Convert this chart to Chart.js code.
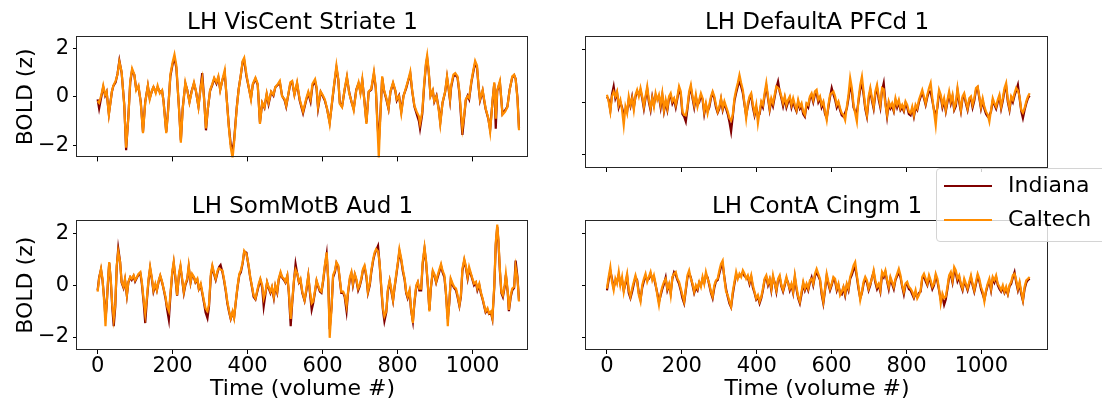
<!DOCTYPE html>
<html>
<head>
<meta charset="utf-8">
<script src="https://cdn.jsdelivr.net/npm/chart.js@4.4.1/dist/chart.umd.min.js"></script>
<style>
  body { margin: 0; background: #fff; width: 1102px; height: 404px; overflow: hidden; position: relative; font-family: "DejaVu Sans", sans-serif; }
  canvas { position: absolute; }
  #legend { position: absolute; left: 936px; top: 168px; width: 172px; height: 72px; border: 1px solid #d4d4d4; border-radius: 4px; background: rgba(255,255,255,0.8); z-index: 5; }
  #legend .sw { position: absolute; left: 7px; width: 48px; height: 2px; }
  #legend .lb { position: absolute; left: 71px; font-size: 22px; line-height: 26px; color: #000; white-space: nowrap; }
</style>
</head>
<body>
<canvas id="vis" width="528" height="174" style="left:0;top:0"></canvas>
<canvas id="def" width="468" height="174" style="left:580px;top:0"></canvas>
<canvas id="som" width="528" height="220" style="left:0;top:184px"></canvas>
<canvas id="con" width="468" height="220" style="left:580px;top:184px"></canvas>
<div id="legend">
  <div class="sw" style="top:16px;background:#800000"></div><div class="lb" style="top:3px">Indiana</div>
  <div class="sw" style="top:50px;background:#ff8c00"></div><div class="lb" style="top:37px">Caltech</div>
</div>
<script>
// time (volume #) of each reading, left column
const tVis = [
  0,4,11,15,20,24,30,38,42,48, 53,58,64,71,76,82,87,92,98,103,
  109,115,121,127,134,139,145,149,155,160, 166,172,176,183,188,194,200,205,210,217,
  222,227,234,239,245,251,257,262,269,275, 279,284,289,294,300,306,311,317,322,327,
  333,339,345,350,355,360,364,371,376,382, 387,391,397,403,409,414,421,427,433,439,
  445,451,456,463,469,474,481,486,492,499, 503,507,514,519,525,532,539,548,557,562,
  568,573,580,584,588,595,600,606,612,619, 626,631,637,642,646,652,659,665,671,677,
  683,690,696,701,706,711,717,723,730,737, 742,746,750,754,759,764,770,776,781,788,
  794,798,804,810,816,823,829,834,839,845, 851,857,860,866,871,876,879,883,888,894,
  898,904,910,914,920,927,932,936,940,943, 949,954,960,965,969,973,978,982,987,991,
  997,1003,1007,1012,1016,1020,1027,1031,1035,1042, 1047,1053,1058,1062,1066,1073,1080,1087,1093,1099,
  1106,1111,1115,1120,1124
]
const visCaltech = [
  -0.17,-0.25,0.15,0.47,0.09,0.22,-0.74,0.22,0.47,0.66, 0.92,1.45,1.04,-0.36,-2.1,-0.87,0.66,1.17,0.92,0.28,
  0.47,-0.23,-1.5,-0.23,0.47,-0.1,0.28,0.41,0.15,0.47, 0.15,0.28,-0.23,-1.5,-0.61,0.92,1.43,1.75,1.3,-0.48,
  -1.89,-0.48,0.6,0.28,-0.23,0.22,0.6,0.28,-0.42,0.41, 0.75,-0.1,-1.3,-0.48,0.28,0.54,0.79,0.6,0.85,0.28,
  0.73,1.11,-0.23,-1.25,-2.08,-2.52,-1.89,-0.48,0.28,0.92, 1.49,1.62,0.92,0.41,-0.1,0.54,0.79,0.54,-1.12,-0.23,
  -0.42,0.15,-0.23,0.22,0.09,0.41,0.54,0.66,0.03,-0.1, -0.36,-0.04,0.6,0.66,0.09,0.6,-0.1,-0.6,-0.04,0.22,
  -0.1,0.54,0.73,0.41,-0.4,0.22,0.09,-0.1,-0.48,-1.12, -0.1,0.54,1.3,0.73,-0.29,-0.42,0.34,0.85,0.15,-0.17,
  -0.55,0.28,0.6,0.15,0.73,-0.1,-1.12,0.22,0.34,1.04, 0.41,-1.12,-2.52,-0.87,0.85,0.28,-0.04,-0.48,0.22,0.6,
  0.28,-0.1,0.03,-0.68,0.03,0.41,0.73,1.04,0.28,-0.36, -0.61,-0.8,-1.1,-0.61,0.54,1.43,1.72,1.11,0.03,0.28,
  -0.17,0.03,-0.55,-1.12,-0.23,0.22,0.85,0.41,-0.1,0.47, 0.92,0.98,0.85,0.22,-0.6,-1.3,-0.74,-0.1,0.03,-0.04,
  0.66,1.17,1.49,1.3,0.47,-0.1,0.28,-0.1,-0.48,-0.87, -1.44,-0.23,0.6,-0.9,0.28,0.66,-0.74,-0.61,-0.42,0.28,
  0.85,0.92,0.73,-0.1,-1.38
]
const visIndiana = [
  -0.1,-0.48,0.1,0.4,0.05,0.2,-0.7,0.2,0.45,0.6, 0.95,1.5,1.0,-0.3,-2.2,-0.8,0.6,1.1,0.9,0.3,
  0.4,-0.2,-1.45,-0.2,0.45,-0.05,0.25,0.4,0.2,0.4, 0.2,0.25,-0.2,-1.45,-0.55,0.85,1.35,1.6,1.2,-0.45,
  -1.8,-0.45,0.55,0.3,-0.2,0.25,0.55,0.25,-0.4,0.45, 0.98,-0.05,-1.38,-0.5,0.25,0.5,0.75,0.55,0.8,0.3,
  0.7,1.0,-0.2,-1.2,-1.95,-2.2,-1.8,-0.45,0.3,0.9, 1.45,1.5,0.85,0.4,-0.05,0.5,0.75,0.5,-1.05,-0.25,
  -0.45,0.1,-0.3,0.2,0.05,0.4,0.5,0.6,0.05,-0.15, -0.4,-0.05,0.55,0.6,0.1,0.55,-0.15,-0.68,-0.1,0.15,
  -0.2,0.45,0.65,0.35,-0.48,0.2,0.05,-0.15,-0.5,-1.05, -0.15,0.5,1.2,0.7,-0.25,-0.4,0.3,0.8,0.2,-0.2,
  -0.5,0.3,0.55,0.2,0.68,-0.05,-1.05,0.2,0.3,0.95, 0.35,-0.95,-1.9,-0.8,0.8,0.25,-0.1,-0.5,0.2,0.55,
  0.25,-0.15,0.05,-0.6,0.05,0.35,0.7,0.95,0.25,-0.4, -0.7,-1.0,-1.31,-0.7,0.45,1.35,1.6,1.05,0.05,0.25,
  -0.2,0.05,-0.5,-1.05,-0.25,0.2,0.8,0.35,-0.15,0.4, 0.85,0.9,0.8,0.15,-0.75,-1.57,-0.8,-0.15,0.05,-0.1,
  0.6,1.1,1.4,1.2,0.45,-0.15,0.25,-0.15,-0.5,-0.9, -1.35,-0.25,0.55,-1.31,0.25,0.6,-0.7,-0.55,-0.4,0.3,
  0.8,0.9,0.75,-0.05,-1.3
]

const tSom = [
  0,4,9,13,18,21,24,29,31,35, 39,43,47,51,55,60,64,69,73,78,
  82,87,91,96,100,105,109,114,118,123, 127,131,136,140,145,149,154,158,163,167,
  172,176,181,185,190,194,199,203,208,212, 217,221,226,230,234,239,243,248,252,257,
  261,266,270,275,279,284,288,293,297,302, 306,311,315,320,324,328,333,337,342,346,
  351,355,360,364,369,373,378,382,387,391, 397,403,407,412,416,421,425,430,434,439,
  443,448,452,456,461,465,470,474,479,483, 488,492,497,501,506,510,515,519,524,528,
  533,537,541,546,552,557,
  562,566,571,575,580,584,588,593,597,602, 606,611,615,619,624,628,633,637,642,646,
  650,655,659,664,668,673,677,681,686,690, 695,699,704,708,712,717,721,726,730,735,
  739,743,748,752,757,761,765,770,774,779, 783,788,792,796,801,805,810,814,819,823,
  827,832,836,841,845,850,854,858,863,867, 872,876,881,885,889,894,898,903,907,912,
  916,920,925,929,934,938,942,947,951,956, 960,965,969,973,978,982,987,991,996,1000,
  1004,1009,1013,1018,1022,1027,1031,1035,1040,1044,
  1049,1053,1058,1062,1066,1069,1073,1077,1081,1086,1089,1094,1097,1102,1106,1111,1115,1120,1124
]
const somCaltech = [
  -0.25,0.25,0.63,0.25,-0.76,-1.58,-0.76,0.51,0.89,0.25, -0.76,-1.3,-0.76,0.76,1.3,0.89,0.13,-0.06,0.25,-0.38,
  0.13,0.32,0.25,0.38,0.19,0.32,0.44,0.51,0.13,-0.6, -1.1,-0.55,0.25,0.7,0.25,-0.19,0.06,-0.19,0.19,0.38,
  0.13,-0.13,-0.44,-0.8,-1.0,-0.38,0.51,0.91,0.25,-0.38, 0.44,0.76,0.19,-0.25,0.06,0.25,0.76,0.13,0.44,0.32,
  0.13,0.25,-0.13,0.06,-0.25,-0.63,-0.9,-1.0,-0.76,0.44, 0.76,0.44,0.25,0.57,0.65,0.6,0.57,0.25,-0.19,-0.63,
  -1.01,-1.27,-1.01,-1.27,-0.57,-0.06,0.44,0.57,0.89,1.33, 1.2,0.76,0.32,-0.06,-0.38,-0.51,-0.25,0.06,0.25,0,
  -0.5,-0.25,0.13,-0.06,-0.25,-0.06,-0.44,0,-0.25,0.25, 0.51,0.32,0.25,0.13,0.38,-0.25,-1.3,-0.63,0.25,0.6,
  0.44,0.13,0.25,-0.25,-0.57,-0.13,
  0.38,-0.19,-0.7,-0.63,-0.19,0.19,0,-0.19,-0.25,0.25, 0.76,1.27,0.25,-2.03,-0.89,0.38,0.57,0.89,0.76,0.25,
  -0.25,-0.25,-0.38,-0.8,-0.25,0.32,0.51,0.06,0.44,0.25, -0.13,0,0.32,0.63,0.76,0.38,-0.25,0.06,0.57,1.01,
  1.27,1.39,1.3,0.89,-0.13,-0.89,-1.2,-1.01,-0.19,0.19, -0.13,-0.57,-0.06,0.38,0.89,1.39,1.01,0.63,0.25,-0.25,
  -0.44,-0.19,-0.89,-1.46,-0.63,0,0.13,-0.13,-0.13,0.89, 1.46,0.95,0,-1.01,-0.06,0.57,0.44,0.13,0.38,0.63,
  0.82,0.57,0.38,-0.25,-1.58,-0.63,0.25,0.06,-0.06,-0.13, -0.38,-0.76,-0.38,0.63,1.01,0.76,0.32,0.7,0.44,0.25,
  0.06,0.13,-0.13,0.06,-0.25,-0.51,-0.76,-1.01,-0.89,-1.08,
  -1.01,-1.27,0,1.65,2.34,1.77,0.63,-0.25,-0.38,0,0.44,-0.25,-0.95,-0.38,-0.13,-0.06,0.7,0.25,-0.63
]
const somIndiana = [
  -0.2,0.3,0.6,0.2,-0.6,-1.3,-0.8,0.45,0.85,0.2, -0.85,-1.58,-0.85,0.7,1.42,0.9,0.1,-0.1,0.2,-0.4,
  0.1,0.3,0.2,0.35,0.15,0.3,0.4,0.45,0.05,-0.7, -1.46,-0.65,0.2,0.65,0.2,-0.25,0.0,-0.2,0.15,0.35,
  0.1,-0.15,-0.5,-0.9,-1.33,-0.45,0.45,0.85,0.2,-0.4, 0.4,0.7,0.15,-0.3,0.0,0.2,0.7,0.1,0.4,0.3,
  0.1,0.2,-0.15,0.0,-0.3,-0.7,-1.05,-1.27,-0.85,0.35, 0.7,0.4,0.2,0.5,0.7,0.78,0.5,0.2,-0.25,-0.7,
  -1.05,-1.3,-1.05,-1.25,-0.6,-0.1,0.4,0.5,0.85,1.3, 1.25,0.7,0.3,-0.1,-0.45,-0.55,-0.3,0.0,0.2,-0.1,
  -0.82,-0.3,0.1,-0.1,-0.3,-0.1,-0.5,-0.05,-0.3,0.2, 0.45,0.3,0.2,0.1,0.35,-0.3,-1.58,-0.7,0.2,0.82,
  0.4,0.1,0.2,-0.3,-0.6,-0.2,
  0.35,-0.25,-0.95,-0.7,-0.25,0.15,-0.05,-0.25,-0.3,0.2, 0.7,1.2,0.2,-1.7,-0.85,0.3,0.5,0.85,0.7,0.2,
  -0.3,-0.3,-0.45,-1.0,-0.3,0.25,0.45,0.0,0.4,0.2, -0.2,-0.05,0.25,0.6,0.7,0.3,-0.3,0.0,0.5,0.95,
  1.2,1.35,1.52,0.85,-0.2,-0.95,-1.39,-1.05,-0.25,0.15, -0.2,-0.6,-0.1,0.3,0.85,1.3,0.95,0.55,0.2,-0.3,
  -0.5,-0.25,-0.95,-1.4,-0.7,-0.05,0.1,-0.2,-0.2,0.8, 1.4,0.9,-0.05,-0.95,-0.1,0.5,0.4,0.1,0.3,0.55,
  0.75,0.5,0.3,-0.3,-1.3,-0.7,0.2,0.0,-0.1,-0.2, -0.45,-0.8,-0.45,0.55,0.95,0.7,0.25,0.6,0.4,0.2,
  0.0,0.1,-0.2,0.0,-0.3,-0.55,-0.8,-1.05,-0.95,-1.1,
  -1.05,-1.3,-0.1,1.55,2.25,1.7,0.55,-0.3,-0.45,-0.05,0.4,-0.3,-1.0,-0.45,-0.2,-0.1,0.95,0.3,-0.6
]

// right column was read on an even grid, one reading every ~4.5 volumes
const tGrid = Array.from({ length: 253 }, (_, i) => +(i * 4.48).toFixed(1))
const defCaltech = [
  0.28,0.03,-0.36,0.22,0.4,0.22,0.41,-0.1,0.09,-0.29, -0.87,-0.17,-0.42,0.22,-0.1,0.15,-0.29,0.28,0.47,0.22,
  0.54,0.22,-0.17,0.22,0.6,0.09,-0.23,0.15,-0.17,0.34, 0.09,0.28,-0.1,0.34,-0.29,0.09,-0.23,0.22,0.34,0.03,
  0.15,-0.1,0.22,0.6,0.41,-0.36,-0.48,-0.5,-0.17,0.41, 0.66,0.22,-0.1,0.28,-0.17,0.09,0.34,0.15,-0.36,-0.04,
  -0.42,-0.1,0.22,0.41,0.22,-0.1,-0.36,-0.17,0.15,-0.23, 0.03,-0.17,-0.36,-0.6,-0.7,-0.48,0.15,0.47,0.73,1.04,
  0.73,0.47,-0.04,-0.61,-0.04,0.22,0.34,-0.1,-0.42,-0.1, -0.8,-0.36,0.03,-0.1,0.34,0.73,0.22,-0.23,0.15,-0.04,
  0.28,0.6,0.55,0.47,0.22,-0.04,0.22,-0.1,0.09,0.22, -0.1,0.15,-0.1,-0.29,0.09,-0.17,-0.04,-0.36,-0.48,-0.04,
  -0.1,0.22,0.34,0.09,0.41,0.47,0.09,0.22,
  -0.1,0.03,-0.36,-0.68,-0.1,0.28,0.35,0.41,0.22,-0.1, 0.03,-0.23,-0.42,-0.48,-0.68,-0.17,0.28,0.92,0.54,-0.1,
  -0.42,-0.74,0.15,0.66,0.98,0.41,-0.17,-0.48,0.22,0.54, 0.15,-0.17,0.41,0.66,0.22,-0.1,0.54,0.5,-0.1,-0.48,
  0.03,-0.17,-0.04,-0.29,0.15,-0.1,0.09,-0.23,-0.1,-0.29, 0.03,-0.1,-0.36,-0.42,-0.17,-0.48,-0.1,-0.23,0.09,0.28,
  0.47,0.22,-0.04,0.28,0.54,0.73,0.15,-0.36,-0.87,-0.1, 0.47,0.28,-0.1,0.15,-0.29,0.09,0.41,0.03,0.28,-0.23,
  -0.04,0.54,0.09,-0.29,0.22,0.34,0.03,-0.23,0.15,0.22, -0.1,0.15,0.54,0.6,0.22,-0.17,0.15,-0.17,-0.36,-0.48,
  -0.74,-0.29,0.15,-0.04,-0.17,0.09,0.28,-0.17,0.15,0.54, 0.73,0.09,-0.23,0.22,0.09,0.34,0.54,0.45,0.22,-0.29,
  -0.4,-0.23,0.03,0.22,0.34
]
const defIndiana = [
  0.2,0.1,-0.3,0.3,0.6,0.15,0.35,-0.2,0.0,-0.2, -0.48,-0.3,-0.35,0.1,-0.15,0.2,-0.2,0.2,0.4,0.3,
  0.45,0.15,-0.25,0.15,0.5,0.0,-0.3,0.2,-0.1,0.25, 0.15,0.2,-0.2,0.25,-0.35,0.0,-0.3,0.15,0.25,-0.05,
  0.1,-0.2,0.15,0.5,0.3,-0.45,-0.55,-0.74,-0.25,0.3, 0.55,0.15,-0.2,0.2,-0.1,0.0,0.25,0.1,-0.45,-0.1,
  -0.35,-0.2,0.15,0.35,0.15,-0.2,-0.4,-0.25,0.1,-0.3, -0.05,-0.25,-0.45,-0.74,-1.12,-0.55,0.05,0.35,0.6,0.8,
  0.6,0.35,-0.1,-0.5,-0.15,0.15,0.25,-0.2,-0.5,-0.2, -0.5,-0.45,-0.05,-0.2,0.25,0.6,0.15,-0.3,0.05,-0.15,
  0.2,0.55,0.79,0.4,0.15,-0.15,0.15,-0.2,0.0,0.15, -0.2,0.05,-0.2,-0.35,0.0,-0.25,-0.15,-0.45,-0.55,-0.1,
  -0.2,0.15,0.25,0.0,0.3,0.35,0.0,0.15,
  -0.2,-0.05,-0.45,-0.6,-0.2,0.2,0.54,0.3,0.1,-0.2, -0.05,-0.3,-0.5,-0.55,-0.4,-0.25,0.15,0.6,0.4,-0.2,
  -0.35,-0.4,0.05,0.5,0.7,0.3,-0.25,-0.55,0.1,0.45, 0.05,-0.25,0.3,0.55,0.1,-0.2,0.45,0.73,0.0,-0.55,
  -0.05,-0.25,-0.15,-0.35,0.05,-0.2,0.0,-0.3,-0.2,-0.35, -0.05,-0.2,-0.45,-0.5,-0.25,-0.55,-0.2,-0.3,0.0,0.2,
  0.35,0.15,-0.1,0.2,0.4,0.4,0.05,-0.3,-0.5,-0.2, 0.35,0.2,-0.2,0.05,-0.35,0.0,0.3,-0.05,0.2,-0.3,
  -0.15,0.45,0.0,-0.35,0.15,0.25,-0.05,-0.3,0.05,0.15, -0.2,0.05,0.45,0.55,0.15,-0.25,0.05,-0.25,-0.45,-0.55,
  -0.5,-0.35,0.05,-0.1,-0.25,0.0,0.2,-0.25,0.05,0.45, 0.6,0.0,-0.3,0.15,0.0,0.25,0.45,0.66,0.15,-0.35,
  -0.61,-0.3,-0.05,0.15,0.25
]
const conCaltech = [
  -0.13,0.32,0.7,0.13,-0.19,0.25,0.06,0.51,0,0.32, -0.25,0.13,0.44,-0.19,-0.44,-0.13,0.13,0.38,0.13,-0.38,
  -0.63,0,0.25,0.44,0.13,0.32,0.51,0.19,0.38,0.06, -0.38,-0.76,-0.32,-0.06,0.13,0.25,-0.13,0.06,-0.38,0.32,
  0.44,0.51,0.25,0.13,-0.13,-0.38,-0.63,-0.13,0.38,0.57, 0.25,0.06,-0.25,0,-0.13,0.13,-0.06,0.32,0.06,0.51,
  0.25,0.06,-0.25,-0.44,0,0.19,0.25,0.57,0.82,0.95, 0.25,-0.25,-0.38,-0.63,-0.82,-0.25,0.13,0.51,0.25,0.44,
  0.32,0.57,0.44,0.25,0.38,0.13,0.38,0,-0.25,-0.51, -0.38,-0.63,-0.44,-0.13,0.25,0.38,0.06,0.25,-0.13,0.38,
  0.06,-0.19,0.25,0.38,0,-0.19,0.06,0.32,0.06,-0.13, 0.06,-0.25,0.38,-0.06,-0.44,-0.63,-0.25,0.13,-0.13,0.06,
  -0.13,0.19,0.25,0.06,0.44,0.63,0.44,0.25,
  -0.25,-0.63,-0.13,0.44,0.13,-0.13,0.06,0.32,0.25,-0.13, 0.06,-0.38,-0.25,-0.06,-0.32,0.06,-0.13,0.32,0.51,0.76,
  0.89,0.38,-0.06,-0.57,-0.25,0.13,0.32,0.19,-0.13,0.06, 0.25,0.57,0.19,-0.06,0.06,-0.19,0.51,0.38,0.57,0.19,
  -0.06,0.32,0.13,-0.06,0.25,0.44,0.63,0.38,0,-0.25, 0.06,0.13,-0.06,-0.13,-0.25,-0.44,-0.19,-0.51,-0.38,-0.19,
  0.32,0.44,0.25,0.06,0.38,0.19,-0.06,0.06,0.44,0.25, -0.13,-0.7,-0.32,-0.5,-0.44,-0.06,0.38,0.51,0.19,0.7,
  0.57,0.25,0.38,0.06,-0.13,0.25,0.06,-0.13,0.13,0.38, 0.06,-0.19,0.13,0.44,0.25,-0.06,-0.25,-0.63,-0.19,0.06,
  0.25,-0.13,0.32,0.19,0.38,0.06,-0.06,-0.19,0,-0.25, -0.06,-0.32,0,0.13,0.38,0.44,0.19,-0.13,0.13,-0.25,
  -0.57,-0.06,0.19,0.25,0.32
]
const conIndiana = [
  -0.2,0.2,0.55,0.25,-0.1,0.15,0.15,0.4,0.05,0.2, -0.2,0.05,0.35,-0.3,-0.5,-0.25,0.05,0.3,0.2,-0.3,
  -0.55,-0.1,0.15,0.35,0.2,0.25,0.45,0.25,0.3,0.0, -0.3,-0.65,-0.4,-0.15,0.05,0.3,-0.2,0.0,-0.3,0.25,
  0.5,0.4,0.2,0.05,-0.2,-0.5,-0.7,-0.2,0.3,0.45, 0.3,0.0,-0.3,-0.1,-0.2,0.1,0.0,0.25,0.1,0.4,
  0.3,0.0,-0.3,-0.5,-0.1,0.15,0.2,0.45,0.7,0.8, 0.3,-0.15,-0.45,-0.7,-0.85,-0.35,0.05,0.4,0.3,0.35,
  0.4,0.5,0.35,0.3,0.3,0.05,0.3,-0.1,-0.3,-0.55, -0.45,-0.7,-0.5,-0.2,0.2,0.3,0.0,0.2,-0.2,0.3,
  0.1,-0.25,0.2,0.3,-0.05,-0.25,0.0,0.25,0.1,-0.2, 0.0,-0.3,0.3,-0.15,-0.5,-0.7,-0.35,0.05,-0.2,0.0,
  -0.2,0.1,0.3,0.0,0.35,0.5,0.35,0.2,
  -0.35,-0.7,-0.2,0.35,0.05,-0.2,0.0,0.25,0.15,-0.2, 0.0,-0.3,-0.35,-0.1,-0.4,0.0,-0.2,0.25,0.4,0.6,
  0.7,0.3,-0.15,-0.5,-0.3,0.05,0.25,0.1,-0.2,0.0, 0.3,0.5,0.1,-0.15,0.0,-0.25,0.4,0.3,0.5,0.15,
  -0.15,0.25,0.05,-0.15,0.2,0.35,0.5,0.3,-0.05,-0.35, 0.0,0.05,-0.15,-0.2,-0.35,-0.5,-0.3,-0.45,-0.3,-0.25,
  0.25,0.35,0.15,0.0,0.3,0.1,-0.15,0.0,0.35,0.15, -0.2,-0.55,-0.45,-0.76,-0.55,-0.15,0.3,0.4,0.1,0.55,
  0.45,0.15,0.3,0.0,-0.2,0.15,0.0,-0.2,0.05,0.3, 0.0,-0.25,0.05,0.35,0.15,-0.15,-0.35,-0.55,-0.25,0.0,
  0.15,-0.2,0.25,0.1,0.3,0.0,-0.15,-0.25,-0.1,-0.3, -0.15,-0.35,-0.05,0.05,0.3,0.5,0.1,-0.2,0.05,-0.35,
  -0.6,-0.15,0.1,0.2,0.25
]

const yTicks = [-2, 0, 2]
const xTicks = [0, 200, 400, 600, 800, 1000]

Chart.defaults.font.family = '"DejaVu Sans", sans-serif'
Chart.defaults.color = '#000'

// black box round the plot area, like matplotlib spines
const frame = {
    id: 'frame',
    afterDatasetsDraw(chart) {
        const { ctx, chartArea } = chart
        ctx.save()
        ctx.strokeStyle = '#262626'
        ctx.lineWidth = 1
        ctx.strokeRect(Math.round(chartArea.left) - 0.5, Math.round(chartArea.top) + 0.5,
            Math.round(chartArea.right - chartArea.left), Math.round(chartArea.bottom - chartArea.top) - 1)
        ctx.restore()
    }
}

const minus = v => (v < 0 ? '\u2212' + Math.abs(v) : String(v))

function panel(id, title, times, indiana, caltech, left, bottom, xRange) {
    const pts = vals => times.map((t, i) => ({ x: t, y: vals[i] }))
    new Chart(document.getElementById(id), {
        type: 'line',
        data: {
            datasets: [
                { label: 'Caltech', data: pts(caltech), borderColor: '#ff8c00', borderWidth: 2.2, pointRadius: 0, tension: 0, order: 0 },
                { label: 'Indiana', data: pts(indiana), borderColor: '#800000', borderWidth: 2.2, pointRadius: 0, tension: 0, order: 1 }
            ]
        },
        options: {
            responsive: false,
            animation: false,
            layout: { padding: 0 },
            plugins: {
                legend: { display: false },
                tooltip: { enabled: false },
                title: {
                    display: true,
                    text: title,
                    fullSize: false,
                    color: '#000',
                    font: { size: 23, weight: 'normal' },
                    padding: { top: 8.8, bottom: 0 }
                }
            },
            scales: {
                x: {
                    type: 'linear',
                    min: xRange[0],
                    max: xRange[1],
                    afterFit: s => { s.height = bottom ? 54 : 6 },
                    afterBuildTicks: s => { s.ticks = xTicks.map(v => ({ value: v })) },
                    border: { display: false },
                    grid: { drawOnChartArea: false, tickLength: 4, tickColor: '#000', tickWidth: 1 },
                    ticks: { display: bottom, autoSkip: false, padding: 0, font: { size: 21 }, color: '#000', callback: v => String(v) },
                    title: { display: bottom, text: 'Time (volume #)', font: { size: 22 }, color: '#000', padding: { top: 0, bottom: 2 } }
                },
                y: {
                    min: -2.5,
                    max: 2.5,
                    afterFit: s => { s.width = left ? 77 : 6 },
                    afterBuildTicks: s => { s.ticks = yTicks.map(v => ({ value: v })) },
                    border: { display: false },
                    grid: { drawOnChartArea: false, tickLength: 4, tickColor: '#000', tickWidth: 1 },
                    ticks: { display: left, padding: 4, font: { size: 21 }, color: '#000', callback: v => minus(v) },
                    title: { display: left, text: 'BOLD (z)', font: { size: 22 }, color: '#000', padding: { top: 13, bottom: 0 } }
                }
            }
        },
        plugins: [frame]
    })
}

panel('vis', 'LH VisCent Striate 1', tVis, visIndiana, visCaltech, true, false, [-55, 1148])
panel('def', 'LH DefaultA PFCd 1', tGrid, defIndiana, defCaltech, false, false, [-56, 1178])
panel('som', 'LH SomMotB Aud 1', tSom, somIndiana, somCaltech, true, true, [-55, 1148])
panel('con', 'LH ContA Cingm 1', tGrid, conIndiana, conCaltech, false, true, [-56, 1178])
</script>
</body>
</html>
